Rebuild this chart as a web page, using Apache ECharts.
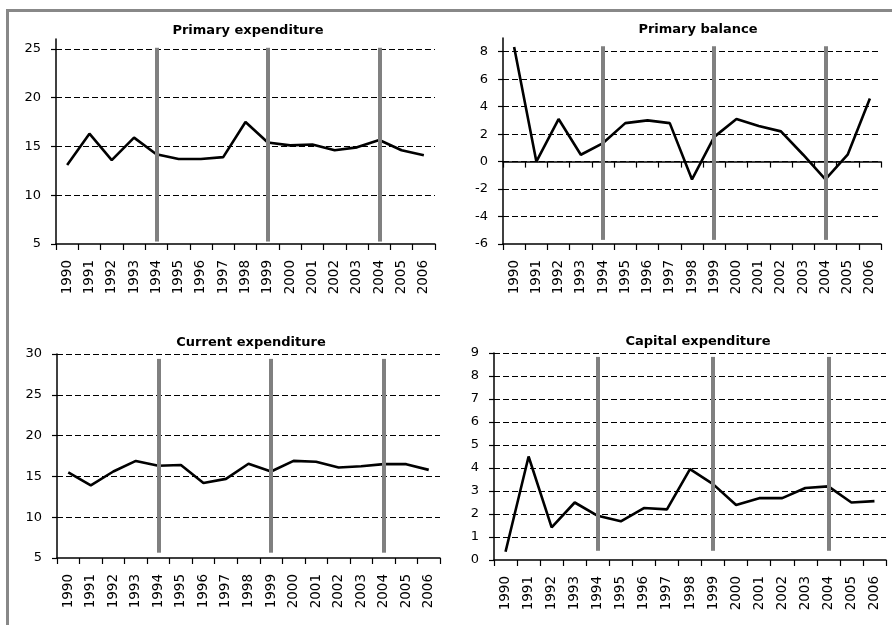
<!DOCTYPE html>
<html>
<head>
<meta charset="utf-8">
<script src="https://cdn.jsdelivr.net/npm/echarts@6/dist/echarts.min.js"></script>
<style>
  html, body { margin: 0; padding: 0; background: #fff; }
  #chart { width: 892px; height: 625px; }
</style>
</head>
<body>
<div id="chart"></div>
<script>
// data
var years = ['1990', '1991', '1992', '1993', '1994', '1995', '1996', '1997', '1998',
  '1999', '2000', '2001', '2002', '2003', '2004', '2005', '2006'];
var primaryExpenditure = [13.1, 16.3, 13.6, 15.9, 14.2, 13.7, 13.7, 13.9, 17.5,
  15.4, 15.1, 15.2, 14.6, 14.9, 15.65, 14.6, 14.1];
var primaryBalance = [8.35, 0.0, 3.1, 0.5, 1.35, 2.8, 3.0, 2.8, -1.3,
  1.8, 3.1, 2.6, 2.2, 0.5, -1.3, 0.5, 4.6];
var currentExpenditure = [15.5, 13.9, 15.6, 16.9, 16.3, 16.4, 14.2, 14.7, 16.55,
  15.6, 16.9, 16.8, 16.1, 16.25, 16.5, 16.5, 15.8];
var capitalExpenditure = [0.36, 4.5, 1.42, 2.5, 1.92, 1.68, 2.26, 2.2, 3.95,
  3.3, 2.39, 2.69, 2.69, 3.13, 3.2, 2.5, 2.56];

// election-year markers (grey bars) and their extent in each panel
var markerYears = ['1994', '1999', '2004'];
var markerSpanPE = [5.25, 25.1];
var markerSpanPB = [-5.7, 8.4];
var markerSpanCE = [5.65, 29.4];
var markerSpanKE = [0.4, 8.83];

var titles = ['Primary expenditure', 'Primary balance', 'Current expenditure', 'Capital expenditure'];

var FONT = 'DejaVu Sans';

var chart = echarts.init(document.getElementById('chart'), null, { renderer: 'canvas' });

function markers(span) {
  return markerYears.map(function (y) {
    return [{ coord: [y, span[1]] }, { coord: [y, span[0]] }];
  });
}

function xAxis(gridIndex, opts) {
  return Object.assign({
    type: 'category',
    gridIndex: gridIndex,
    position: 'bottom',
    data: years,
    boundaryGap: true,
    axisLine: { onZero: false, lineStyle: { color: '#000', width: 1.5 } },
    axisTick: { show: true, length: 6, lineStyle: { color: '#000', width: 1.2 } },
    axisLabel: {
      rotate: 90, margin: 16, color: '#000',
      fontFamily: FONT, fontSize: 13.5
    },
    splitLine: { show: false }
  }, opts || {});
}

function yAxis(gridIndex, min, max, interval) {
  return {
    type: 'value',
    gridIndex: gridIndex,
    min: min,
    max: max,
    interval: interval,
    axisLine: { show: true, lineStyle: { color: '#000', width: 1.5 } },
    axisTick: { show: true, length: 5, lineStyle: { color: '#000', width: 1.2 } },
    axisLabel: {
      margin: 15, color: '#000', fontFamily: FONT, fontSize: 13,
      showMaxLabel: max % interval === 0
    },
    splitLine: {
      show: true,
      showMinLine: false,
      showMaxLine: max % interval === 0,
      lineStyle: { color: '#000', width: 1, type: [6, 3] }
    }
  };
}

function lineSeries(name, xi, yi, data, span) {
  return {
    name: name,
    type: 'line',
    xAxisIndex: xi,
    yAxisIndex: yi,
    data: data,
    symbol: 'none',
    silent: true,
    lineStyle: { color: '#000', width: 2.6 },
    markLine: {
      silent: true,
      symbol: 'none',
      label: { show: false },
      lineStyle: { color: '#808080', width: 4, type: 'solid' },
      data: markers(span)
    },
    z: 3
  };
}

function title(text, left, top) {
  return {
    text: text, left: left, top: top, textAlign: 'center',
    textStyle: { fontFamily: FONT, fontWeight: 'bold', fontSize: 13, color: '#000' }
  };
}

chart.setOption({
  backgroundColor: '#fff',
  animation: false,
  title: [
    title(titles[0], 243, 19),
    title(titles[1], 693, 18),
    title(titles[2], 246, 331),
    title(titles[3], 693, 330)
  ],
  grid: [
    { left: 56, right: 457, top: 39, bottom: 381 },
    { left: 503, right: 11, top: 38, bottom: 381 },
    { left: 57, right: 452, top: 354, bottom: 67 },
    { left: 494, right: 6, top: 353, bottom: 65 }
  ],
  xAxis: [
    xAxis(0),
    xAxis(1),
    xAxis(2),
    xAxis(3),
    // zero line of the primary balance panel, ticks pointing down
    xAxis(1, {
      axisLine: { show: true, onZero: true, onZeroAxisIndex: 1, lineStyle: { color: '#000', width: 1.5 } },
      axisTick: { show: true, inside: false, interval: 0, length: 6, lineStyle: { color: '#000', width: 1.2 } },
      axisLabel: { show: false }
    })
  ],
  yAxis: [
    yAxis(0, 5, 26, 5),
    yAxis(1, -6, 9, 2),
    yAxis(2, 5, 30, 5),
    yAxis(3, 0, 9, 1)
  ],
  series: [
    lineSeries(titles[0], 0, 0, primaryExpenditure, markerSpanPE),
    lineSeries(titles[1], 1, 1, primaryBalance, markerSpanPB),
    lineSeries(titles[2], 2, 2, currentExpenditure, markerSpanCE),
    lineSeries(titles[3], 3, 3, capitalExpenditure, markerSpanKE)
  ],
  graphic: [
    {
      type: 'rect',
      silent: true,
      shape: { x: 7.5, y: 10.5, width: 1000, height: 1000 },
      style: { fill: 'none', stroke: '#888', lineWidth: 3 }
    }
  ]
});
</script>
</body>
</html>
